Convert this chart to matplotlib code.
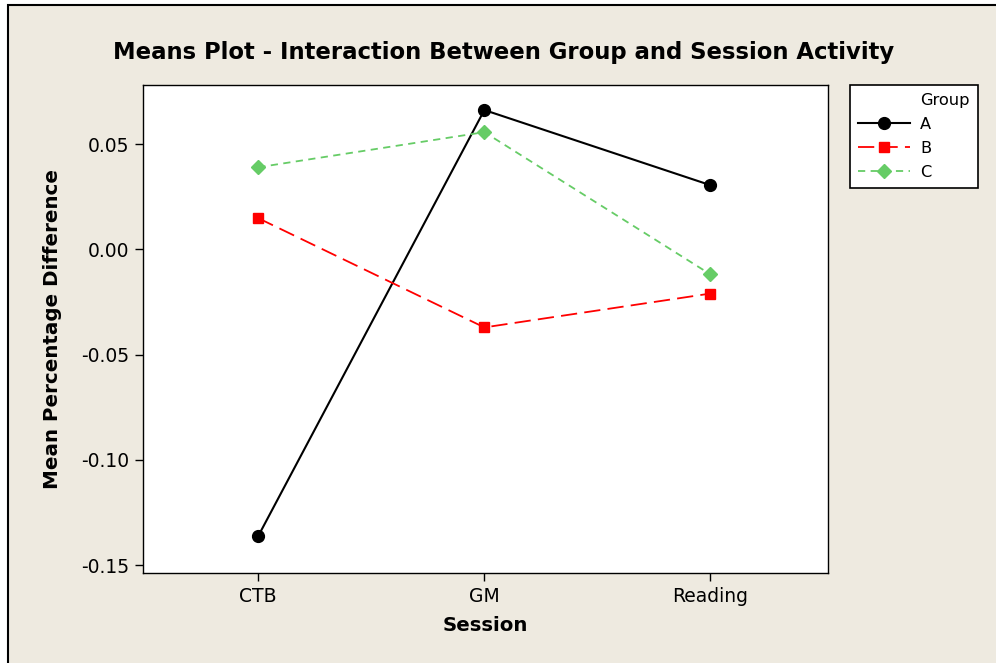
import matplotlib
matplotlib.use('Agg')
import matplotlib.pyplot as plt
from matplotlib.lines import Line2D
from matplotlib.patches import Rectangle

plt.rcParams['font.family'] = ['DejaVu Sans']

# 数据：各组在不同 Session 下的均值
sessions = ['CTB', 'GM', 'Reading']
group_a = [-0.1362, 0.0662, 0.0305]
group_b = [0.0148, -0.0371, -0.0210]
group_c = [0.0390, 0.0557, -0.0119]

BG = '#EEEAE0'
C_GREEN = '#66CC66'

fig = plt.figure(figsize=(9.96, 6.63), dpi=100)
fig.patch.set_facecolor('white')
# 米色背景 + 左上黑色边框（右下被截掉）
fig.patches.append(Rectangle((8 / 996, -0.05), 1.05, 1 - 5 / 663 + 0.05,
                             transform=fig.transFigure, facecolor=BG,
                             edgecolor='black', linewidth=1.5, zorder=-10))

ax = fig.add_axes([143 / 996, 1 - 573 / 663, (828 - 143) / 996, (573 - 85) / 663])
ax.set_facecolor('white')
x = range(len(sessions))

ax.plot(x, group_a, color='black', linewidth=1.5, marker='o', markersize=8.5, label='A')
ax.plot(x, group_b, color='red', linewidth=1.3, linestyle=(0, (9, 4)),
        marker='s', markersize=7.5, label='B')
ax.plot(x, group_c, color=C_GREEN, linewidth=1.3, linestyle=(0, (4, 3)),
        marker='D', markersize=7.5, label='C')

ax.set_xlim(-0.51, 2.52)
ax.set_ylim(-0.1538, 0.0781)
ax.set_xticks(list(x))
ax.set_xticklabels(sessions)
ax.set_yticks([0.05, 0.00, -0.05, -0.10, -0.15])
ax.set_yticklabels(['0.05', '0.00', '-0.05', '-0.10', '-0.15'])
ax.tick_params(labelsize=13.5, length=6, width=1, direction='out', pad=4)
for s in ax.spines.values():
    s.set_linewidth(1)

ax.set_xlabel('Session', fontsize=14.2, fontweight='bold', labelpad=7)
ax.set_ylabel('Mean Percentage Difference', fontsize=14.3, fontweight='bold', labelpad=14)

fig.text(0.506, 1 - 52 / 663, 'Means Plot - Interaction Between Group and Session Activity',
         ha='center', va='center', fontsize=16.4, fontweight='bold')

# 图例：标题用一个空 handle，使其与标签左对齐
handles, labels = ax.get_legend_handles_labels()
handles = [Line2D([], [], color='none')] + handles
labels = ['Group'] + labels
leg = fig.legend(handles, labels, loc='upper left',
                 bbox_to_anchor=(850 / 996, 1 - 85 / 663),
                 fontsize=11.7, frameon=True, fancybox=False, framealpha=1,
                 edgecolor='black', handlelength=3.2, handletextpad=0.6,
                 labelspacing=0.55, borderpad=0.5, borderaxespad=0)
leg.get_frame().set_linewidth(1.2)
leg.get_frame().set_facecolor('white')

fig.savefig('out.png', dpi=100, facecolor=fig.get_facecolor())
